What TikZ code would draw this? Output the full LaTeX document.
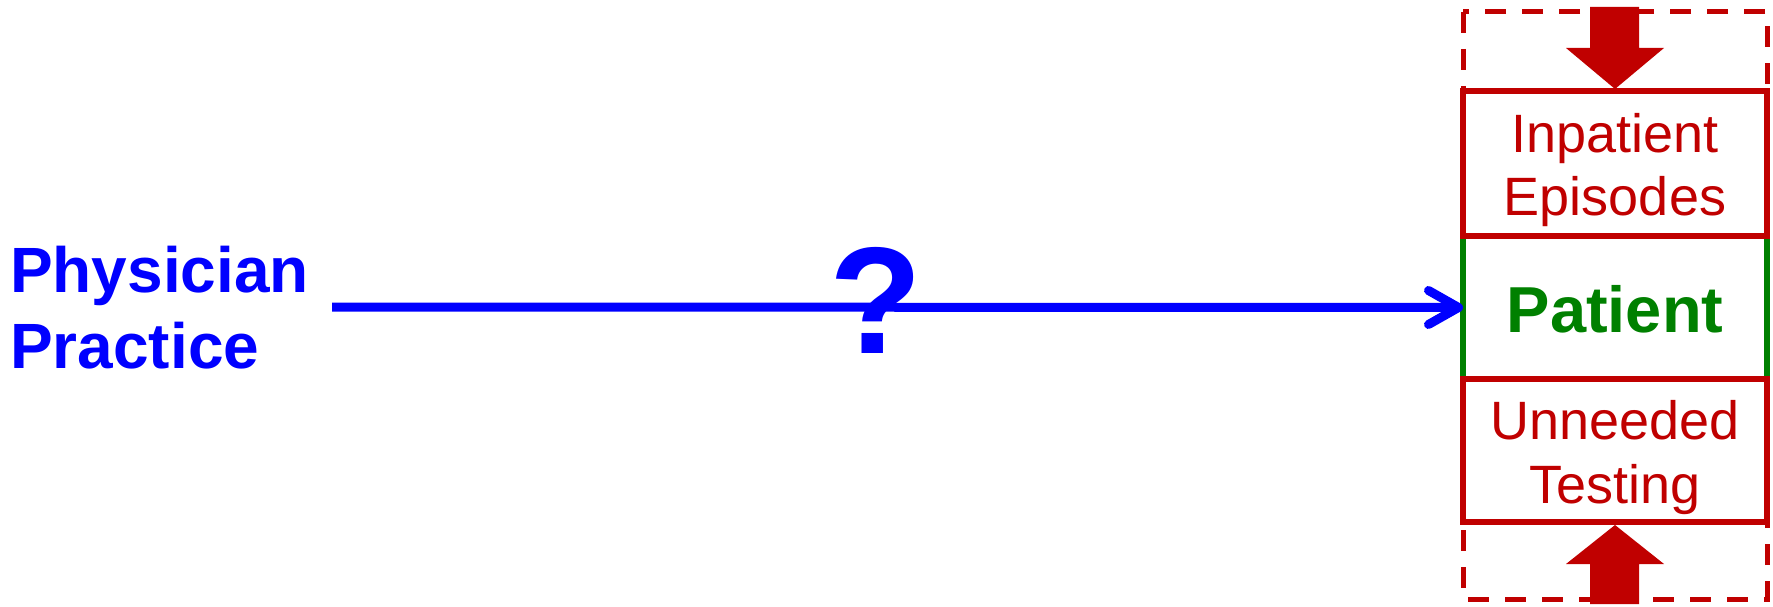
\documentclass[tikz,border=0pt]{standalone}
\usepackage{fontspec}
\setmainfont{Liberation Sans}
\usetikzlibrary{arrows.meta}
\definecolor{dred}{RGB}{192,0,0}
\definecolor{dgreen}{RGB}{0,128,0}
\definecolor{pblue}{RGB}{0,0,255}
\begin{document}
\begin{tikzpicture}[x=1pt,y=-1pt,
  redbox/.style={draw=dred,line width=6pt,minimum width=304pt,inner sep=0pt,outer sep=0pt},
  midbox/.style={minimum width=304pt,minimum height=143pt,inner sep=0pt,outer sep=0pt},
  redtxt/.style={text=dred,font=\fontsize{54}{62}\selectfont,anchor=base,inner sep=0pt},
  bluetxt/.style={text=pblue,font=\fontsize{64}{76}\selectfont\bfseries,anchor=base west,inner sep=0pt},
  dashbox/.style={draw=dred,line width=5pt,dash pattern=on 21pt off 16pt},
  blockarrow/.style={fill=dred,draw=none},
  link/.style={draw=pblue,line width=9pt,-{Straight Barb[length=30pt,width=34pt,round]}}
]
\useasboundingbox (0,0) rectangle (1773,607);
% dashed outer frame
\draw[dashbox] (1463,12) rectangle (1767,599);
% boxes
\node[redbox,minimum height=145pt] (inpat) at (1615,163.5) {};
\node[midbox] (patient) at (1615,307.5) {};
\node[redbox,minimum height=143pt] (unneed) at (1615,450.5) {};
\draw[dgreen,line width=6pt] (inpat.south west) -- (unneed.north west);
\draw[dgreen,line width=6pt] (inpat.south east) -- (unneed.north east);
\draw[dred,line width=6pt,line cap=rect] (inpat.south west) -- (inpat.south east);
\draw[dred,line width=6pt,line cap=rect] (unneed.north west) -- (unneed.north east);
% texts
\node[redtxt] (t1) at (1615,153) {Inpatient};
\node[redtxt] (t2) at (1615,215) {Episodes};
\node[redtxt] (t3) at (1615,439) {Unneeded};
\node[redtxt] (t4) at (1615,503) {Testing};
\node[text=dgreen,font=\fontsize{65}{65}\selectfont\bfseries,anchor=base,inner sep=0pt] (pt) at (1615,332) {Patient};
\node[bluetxt] (ph1) at (10,292) {Physician};
\node[bluetxt] (ph2) at (10,368) {Practice};
% block arrows
\fill[blockarrow] (1590,7) -- (1639,7) -- (1639,48) -- (1664,48) -- (1615,89) -- (1566,48) -- (1590,48) -- cycle;
\fill[blockarrow] (1590,604) -- (1639,604) -- (1639,564) -- (1664,564) -- (1615,525) -- (1566,564) -- (1590,564) -- cycle;
% connector
\coordinate (start) at (332,307);
\draw[link] (start) -- (patient.west);
\node[text=pblue,font=\fontsize{152}{152}\selectfont\bfseries,anchor=base,inner sep=0pt] (q) at (876,353) {?};
\end{tikzpicture}
\end{document}
